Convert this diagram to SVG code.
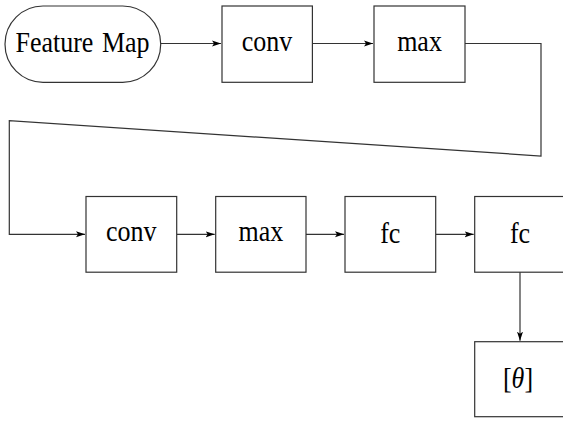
<svg xmlns="http://www.w3.org/2000/svg" width="563" height="424" viewBox="0 0 563 424">
<style>
.n{fill:#fff;stroke:#333;stroke-width:1.2}
.t{font-family:"Liberation Serif",serif;font-size:26px;fill:#000;text-anchor:middle}
.c{fill:none;stroke:#333;stroke-width:1.2}
</style>
<defs>
<marker id="a" markerWidth="10" markerHeight="8" refX="9" refY="4" orient="auto" markerUnits="userSpaceOnUse">
<path d="M0,1 L9,4 L0,7 L2,4 Z" fill="#000"/>
</marker>
</defs>
<rect width="563" height="424" fill="#fff"/>
<g id="connectors">
<path class="c" d="M160.7,43.5 H221" marker-end="url(#a)"/>
<path class="c" d="M312.4,43.5 H373" marker-end="url(#a)"/>
<path class="c" d="M465,43.5 H541 V156 L9.3,120.7 V234.3 H85" marker-end="url(#a)"/>
<path class="c" d="M176.7,234.3 H214.7" marker-end="url(#a)"/>
<path class="c" d="M306,234.3 H344" marker-end="url(#a)"/>
<path class="c" d="M435.7,234.3 H473.7" marker-end="url(#a)"/>
<path class="c" d="M520,272 V340.7" marker-end="url(#a)"/>
</g>
<g id="featuremap"><rect class="n" x="5" y="6" width="155.7" height="76.3" rx="38" ry="38"/><text class="t" word-spacing="2" transform="translate(82.5,52) scale(1,1.12)">Feature Map</text></g>
<g id="conv1"><rect class="n" x="222" y="6" width="90.4" height="76.3"/><text class="t" transform="translate(267,50.5) scale(1,1.12)">conv</text></g>
<g id="max1"><rect class="n" x="374" y="6" width="91" height="76.3"/><text class="t" transform="translate(419.5,50.5) scale(1,1.12)">max</text></g>
<g id="conv2"><rect class="n" x="86" y="196.5" width="90.7" height="75.7"/><text class="t" transform="translate(131.3,240.5) scale(1,1.12)">conv</text></g>
<g id="max2"><rect class="n" x="215.7" y="196.5" width="90.3" height="75.7"/><text class="t" transform="translate(260.8,240.5) scale(1,1.12)">max</text></g>
<g id="fc1"><rect class="n" x="345" y="196.5" width="90.7" height="75.7"/><text class="t" transform="translate(390.3,243) scale(1,1.12)">fc</text></g>
<g id="fc2"><rect class="n" x="474.7" y="196.5" width="91" height="75.7"/><text class="t" transform="translate(520,243) scale(1,1.12)">fc</text></g>
<g id="theta"><rect class="n" x="474.7" y="341.7" width="91" height="75"/><text class="t" transform="translate(518,387.5) scale(1,1.12)">[<tspan font-style="italic">θ</tspan>]</text></g>
</svg>
